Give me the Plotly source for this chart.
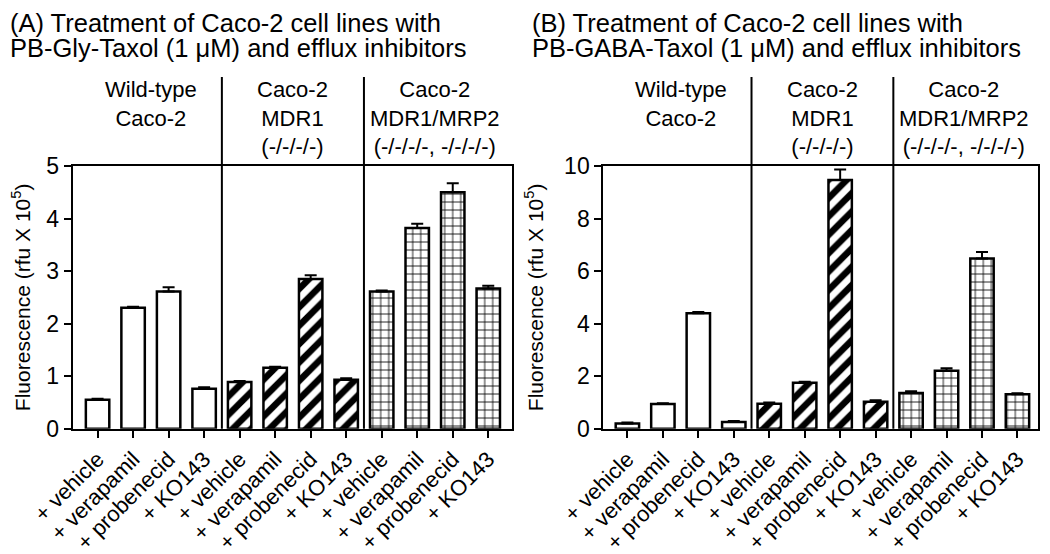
import plotly.graph_objects as go

# x tick labels (same four treatments for each cell line)
treatments = ["+ vehicle", "+ verapamil", "+ probenecid", "+ KO143"]
tick_labels = treatments * 3
group_labels = ["Wild-type<br>Caco-2",
                "Caco-2<br>MDR1<br>(-/-/-/-)",
                "Caco-2<br>MDR1/MRP2<br>(-/-/-/-, -/-/-/-)"]

# (A) PB-Gly-Taxol, fluorescence in rfu x 10^5
gly_mean = [0.55, 2.30, 2.61, 0.76, 0.89, 1.16, 2.85, 0.93, 2.61, 3.82, 4.50, 2.67]
gly_err = [0.02, 0.02, 0.08, 0.03, 0.02, 0.02, 0.07, 0.03, 0.02, 0.08, 0.17, 0.05]

# (B) PB-GABA-Taxol
gaba_mean = [0.20, 0.94, 4.39, 0.25, 0.95, 1.75, 9.47, 1.03, 1.36, 2.21, 6.48, 1.31]
gaba_err = [0.04, 0.03, 0.05, 0.04, 0.05, 0.04, 0.40, 0.05, 0.07, 0.09, 0.25, 0.04]

titles = [["(A) Treatment of Caco-2 cell lines with",
           "PB-Gly-Taxol (1 μM) and efflux inhibitors"],
          ["(B) Treatment of Caco-2 cell lines with",
           "PB-GABA-Taxol (1 μM) and efflux inhibitors"]]

FONT = "Arial, Liberation Sans, sans-serif"
patterns = ["", "/", "+"]
positions = list(range(len(tick_labels)))

# the page body keeps its default 8px margin, so the figure is a bit smaller
W, H = 1042, 546

fig = go.Figure()

panels = [(gly_mean, gly_err, "x", "y"), (gaba_mean, gaba_err, "x2", "y2")]
for mean, err, xa, ya in panels:
    for g, shape in enumerate(patterns):
        idx = positions[g * 4:(g + 1) * 4]
        fig.add_trace(go.Bar(
            x=idx, y=[mean[i] for i in idx],
            width=0.66, xaxis=xa, yaxis=ya,
            marker=dict(color="white",
                        line=dict(color="black", width=2.5),
                        pattern=dict(shape=shape, fgcolor="black", bgcolor="white",
                                     fgopacity=1, fillmode="replace",
                                     size=13 if shape == "/" else 8,
                                     solidity=0.5 if shape == "/" else 0.2)),
            error_y=dict(type="data", symmetric=False,
                         array=[err[i] for i in idx], arrayminus=[0] * len(idx),
                         color="black", thickness=2, width=6),
            showlegend=False, hoverinfo="skip"))

axis_common = dict(showline=True, linecolor="black", linewidth=2, mirror=True,
                   ticks="outside", ticklen=7, tickwidth=2, tickcolor="black",
                   showgrid=False, zeroline=False, automargin=False,
                   tickfont=dict(family=FONT, size=23, color="black"))
xtick_font = dict(family=FONT, size=22, color="black")
ytitle = dict(text="Fluorescence (rfu X 10<sup>5</sup>)",
              font=dict(family=FONT, size=21, color="black"))

ydom = [0.2295, 0.7106]
fig.update_layout(
    width=W, height=H,
    margin=dict(l=0, r=0, t=0, b=0),
    plot_bgcolor="white", paper_bgcolor="white",
    barmode="overlay", showlegend=False,
    font=dict(family=FONT, color="black"),
    xaxis=dict(axis_common, domain=[0.0621, 0.4834], range=[-0.7, 11.66],
               tickvals=positions, ticktext=tick_labels, tickangle=-45,
               tickfont=xtick_font, anchor="y"),
    yaxis=dict(axis_common, domain=ydom, range=[0, 5], dtick=1, anchor="x",
               title=ytitle),
    xaxis2=dict(axis_common, domain=[0.5713, 0.9885], range=[-0.68, 11.58],
                tickvals=positions, ticktext=tick_labels, tickangle=-45,
                tickfont=xtick_font, anchor="y2"),
    yaxis2=dict(axis_common, domain=ydom, range=[0, 10], dtick=2, anchor="x2",
                title=ytitle),
)

# separators between cell lines and group labels above each panel
for xa, lines, tx in [("x", titles[0], 0.0), ("x2", titles[1], 0.501)]:
    for sep in (3.5, 7.5):
        fig.add_shape(type="line", xref=xa, yref="paper", x0=sep, x1=sep,
                      y0=ydom[0], y1=0.8736, line=dict(color="black", width=2))
    for g, lab in enumerate(group_labels):
        fig.add_annotation(xref=xa, yref="paper", x=g * 4 + 1.5, y=0.8764,
                           text=lab, showarrow=False, yanchor="top",
                           font=dict(family=FONT, size=22, color="black"))
    for k, line in enumerate(lines):
        fig.add_annotation(xref="paper", yref="paper", x=tx, y=1 - (15 + 25 * k) / H,
                           text=line, showarrow=False, xanchor="left", yanchor="middle",
                           font=dict(family=FONT, size=25.5, color="black"))

fig.write_html("out.html")
